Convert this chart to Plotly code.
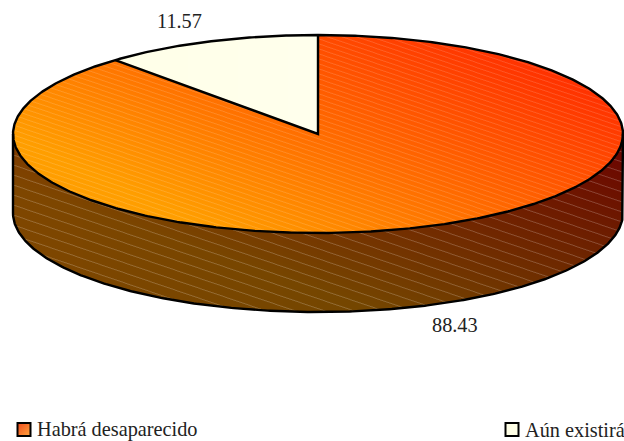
import numpy as np
import plotly.graph_objects as go

categories = ["Habrá desaparecido", "Aún existirá"]
values = [88.43, 11.57]

W, H = 624, 441
CX, CY, RX, RY, DEPTH = 318.0, 134.0, 305.0, 99.0, 79.0
SERIF = "Liberation Serif"
TXT = 20.3
SCALE = 2

frac = values[0] / sum(values)
split = 2 * np.pi * frac

def pt(t, dy=0.0):
    t = np.asarray(t, dtype=float)
    return CX + RX * np.sin(t), CY - RY * np.cos(t) + dy

xs = (np.arange(W * SCALE) + 0.5) / SCALE
ys = (np.arange(H * SCALE) + 0.5) / SCALE
X, Y = np.meshgrid(xs, ys)

u = (X - CX) / RX
v = (Y - CY) / RY
in_top = u**2 + v**2 <= 1
ang = np.mod(np.arctan2(u, -v), 2 * np.pi)
in_main = in_top & (ang <= split)
in_minor = in_top & (ang > split)
in_shift = u**2 + ((Y - CY - DEPTH) / RY) ** 2 <= 1
in_side = (np.abs(u) <= 1) & (~in_top) & (Y > CY) & (in_shift | (Y < CY + DEPTH))

rgb = np.zeros(X.shape + (3,))
alpha = np.zeros(X.shape)

g_top = np.clip(108 - 0.16 * (X - CX) + 0.34 * (Y - CY), 40, 158)
stripe_top = np.mod(Y - 0.34 * X, 5.0) < 1.0
top = np.stack([np.full_like(X, 255.0), g_top, np.zeros_like(X)], -1)
top[stripe_top] = top[stripe_top] * 0.86 + 255 * 0.14

g_side = np.clip(22.7 - 0.09 * X + 0.26 * Y, 8, 70)
stripe_side = np.mod(Y - 0.34 * X, 10.0) < 1.0
side = np.stack([127 - 0.03 * X, g_side, np.zeros_like(X)], -1)
side[stripe_side] = side[stripe_side] * 0.8 + 255 * 0.2

cream = np.stack([np.full_like(X, 255.0), np.full_like(X, 255.0), 232 + 0.02 * (X - 113)], -1)

rgb[in_side] = side[in_side]
alpha[in_side] = 1
rgb[in_main] = top[in_main]
alpha[in_main] = 1
rgb[in_minor] = cream[in_minor]
alpha[in_minor] = 1

# gradient fill of the first legend swatch
legend_x = [24.0, 512.0]
legend_y = 429.5
in_swatch = (np.abs(X - legend_x[0]) <= 6.5) & (np.abs(Y - legend_y) <= 6.5)
mix = ((X - legend_x[0]) + (Y - legend_y) + 13) / 26
swatch = np.stack([240 + 15 * mix, 75 + 90 * mix, 30 + 30 * mix], -1)
rgb[in_swatch] = swatch[in_swatch]
alpha[in_swatch] = 1

def down(a):
    h, w = a.shape[:2]
    return a.reshape(h // SCALE, SCALE, w // SCALE, SCALE, *a.shape[2:]).mean(axis=(1, 3))

a_small = down(alpha)
c_small = down(rgb * alpha[..., None]) / np.maximum(a_small[..., None], 1e-6)
img = np.dstack([np.clip(c_small, 0, 255), a_small * 255]).round().astype(np.uint8)

fig = go.Figure()
fig.add_trace(go.Image(z=img, colormodel="rgba", x0=0.5, y0=0.5, dx=1, dy=1, hoverinfo="skip"))

line = dict(color="black", width=2.4)
t = np.linspace(0, 2 * np.pi, 721)
ex, ey = pt(t)
fig.add_trace(go.Scatter(x=ex, y=ey, mode="lines", line=line, showlegend=False, hoverinfo="skip"))
t_front = np.linspace(np.pi / 2, 3 * np.pi / 2, 361)
bx, by = pt(t_front, DEPTH)
fig.add_trace(go.Scatter(x=np.r_[CX + RX, bx, CX - RX], y=np.r_[CY, by, CY], mode="lines",
                         line=line, showlegend=False, hoverinfo="skip"))
sx, sy = pt(split)
tx, ty = pt(0.0)
fig.add_trace(go.Scatter(x=[sx, CX, tx], y=[sy, CY, ty], mode="lines", line=line,
                         showlegend=False, hoverinfo="skip"))

legend_fill = ["rgba(0,0,0,0)", "#ffffe6"]
label_x = [36.5, 524.5]
for name, col, lx, tx0 in zip(categories, legend_fill, legend_x, label_x):
    fig.add_trace(go.Scatter(x=[lx], y=[legend_y], mode="markers", name=name, showlegend=False,
                             marker=dict(symbol="square", size=13, color=col,
                                         line=dict(color="black", width=2))))
    fig.add_annotation(x=tx0, y=legend_y, text=name, showarrow=False, xanchor="left", xshift=-2,
                       font=dict(family=SERIF, size=TXT, color="#222222"))

fig.add_annotation(x=179.5, y=20.5, text=f"{values[1]:.2f}", showarrow=False,
                   font=dict(family=SERIF, size=TXT, color="#222222"))
fig.add_annotation(x=455, y=325, text=f"{values[0]:.2f}", showarrow=False,
                   font=dict(family=SERIF, size=TXT, color="#222222"))

fig.update_layout(
    width=W, height=H, margin=dict(l=0, r=0, t=0, b=0),
    paper_bgcolor="white", plot_bgcolor="white", showlegend=False,
    xaxis=dict(range=[0, W], visible=False, domain=[0, 1], constrain="domain"),
    yaxis=dict(range=[H, 0], visible=False, domain=[0, 1], constrain="domain"),
)
fig.write_html("out.html", config=dict(displayModeBar=False),
               post_script="document.body.style.margin='0';document.documentElement.style.overflow='hidden';")
